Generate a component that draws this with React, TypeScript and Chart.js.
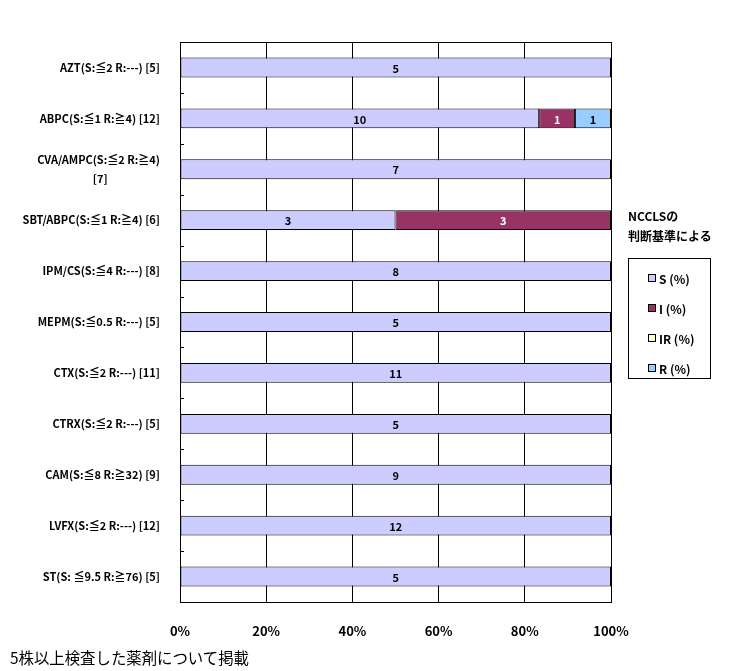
import React, { useEffect, useRef } from "react";
import { Chart, registerables } from "chart.js";

Chart.register(...registerables);

const categories: (string | string[])[] = [
  "AZT(S:≦2 R:---) [5]",
  "ABPC(S:≦1 R:≧4) [12]",
  ["CVA/AMPC(S:≦2 R:≧4)", "[7]                     "],
  "SBT/ABPC(S:≦1 R:≧4) [6]",
  "IPM/CS(S:≦4 R:---) [8]",
  "MEPM(S:≦0.5 R:---) [5]",
  "CTX(S:≦2 R:---) [11]",
  "CTRX(S:≦2 R:---) [5]",
  "CAM(S:≦8 R:≧32) [9]",
  "LVFX(S:≦2 R:---) [12]",
  "ST(S: ≦9.5 R:≧76) [5]",
];

const sCounts = [5, 10, 7, 3, 8, 5, 11, 5, 9, 12, 5];
const iCounts = [0, 1, 0, 3, 0, 0, 0, 0, 0, 0, 0];
const irCounts = [0, 0, 0, 0, 0, 0, 0, 0, 0, 0, 0];
const rCounts = [0, 1, 0, 0, 0, 0, 0, 0, 0, 0, 0];

const seriesNames = ["S (%)", "I (%)", "IR (%)", "R (%)"];
const seriesColors = ["#CCCCFF", "#993366", "#FFFFCC", "#99CCFF"];
const labelColors = ["#000000", "#FFFFFF", "#000000", "#000000"];
const xTicks = [0, 20, 40, 60, 80, 100];

const FONT = "'Noto Sans CJK JP', 'Noto Sans', sans-serif";

export default function App() {
  const ref = useRef<HTMLCanvasElement | null>(null);

  useEffect(() => {
    document.body.style.margin = "0";
    const counts = [sCounts, iCounts, irCounts, rCounts];
    const totals = sCounts.map(
      (_, i) => sCounts[i] + iCounts[i] + irCounts[i] + rCounts[i]
    );
    const datasets = counts.map((c, k) => ({
      label: seriesNames[k],
      data: c.map((v, i) => (v / totals[i]) * 100),
      backgroundColor: seriesColors[k],
      borderColor: "#000000",
      borderWidth: 1,
      borderSkipped: false as const,
      barPercentage: 0.39,
      categoryPercentage: 1,
    }));

    const overlay = {
      id: "overlay",
      afterDatasetsDraw(chart: any) {
        const ctx = chart.ctx;
        const area = chart.chartArea;
        ctx.save();
        ctx.font = `bold 11px ${FONT}`;
        ctx.textAlign = "center";
        ctx.textBaseline = "middle";
        chart.data.datasets.forEach((ds: any, k: number) => {
          const meta = chart.getDatasetMeta(k);
          meta.data.forEach((el: any, i: number) => {
            const v = counts[k][i];
            if (!v) return;
            const p = el.getCenterPoint();
            ctx.fillStyle = labelColors[k];
            ctx.fillText(String(v), p.x, p.y + 1);
          });
        });
        ctx.strokeStyle = "#000000";
        ctx.lineWidth = 1;
        ctx.beginPath();
        ctx.moveTo(area.left, Math.round(area.top) + 0.5);
        ctx.lineTo(area.right, Math.round(area.top) + 0.5);
        ctx.stroke();
        const y = chart.scales.y;
        for (let i = 0; i < categories.length - 1; i++) {
          const yy =
            (y.getPixelForValue(i) + y.getPixelForValue(i + 1)) / 2;
          ctx.beginPath();
          ctx.moveTo(area.left, Math.round(yy) + 0.5);
          ctx.lineTo(area.left + 4, Math.round(yy) + 0.5);
          ctx.stroke();
        }
        ctx.restore();
      },
    };

    const chart = new Chart(ref.current as HTMLCanvasElement, {
      type: "bar",
      data: { labels: categories, datasets },
      plugins: [overlay],
      options: {
        indexAxis: "y",
        animation: false,
        responsive: false,
        maintainAspectRatio: false,
        layout: { padding: { left: 0, right: 126, top: 42, bottom: 0 } },
        plugins: {
          legend: { display: false },
          tooltip: { enabled: false },
        },
        scales: {
          x: {
            stacked: true,
            min: 0,
            max: 100,
            afterBuildTicks: (scale: any) => {
              scale.ticks = xTicks.map((v) => ({ value: v }));
            },
            afterFit: (scale: any) => {
              scale.height = 69;
            },
            grid: {
              color: "#000000",
              lineWidth: 1,
              drawTicks: false,
            },
            border: { display: true, color: "#000000", width: 1 },
            ticks: {
              padding: 21,
              color: "#000000",
              font: { family: FONT, size: 13, weight: "bold" },
              callback: (v: any) => `${v}%`,
            },
          },
          y: {
            stacked: true,
            afterFit: (scale: any) => {
              scale.width = 180;
            },
            grid: { display: false },
            border: { display: true, color: "#000000", width: 1 },
            ticks: {
              padding: 12,
              color: "#000000",
              font: { family: FONT, size: 11, weight: "bold", lineHeight: 1.7 },
            },
          },
        },
      } as any,
    });
    return () => chart.destroy();
  }, []);

  const legendText: React.CSSProperties = {
    position: "absolute",
    fontFamily: FONT,
    fontWeight: "bold",
    color: "#000",
    whiteSpace: "nowrap",
  };

  return (
    <div style={{ position: "relative", width: 737, height: 671, background: "#fff" }}>
      <canvas ref={ref} width={737} height={671} style={{ display: "block" }} />
      <div style={{ ...legendText, left: 628, top: 206, fontSize: 12, lineHeight: "20px" }}>
        NCCLSの
        <br />
        判断基準による
      </div>
      <div
        style={{
          position: "absolute",
          left: 628,
          top: 258,
          width: 83,
          height: 121,
          border: "1px solid #000",
          boxSizing: "border-box",
        }}
      >
        {seriesNames.map((n, k) => (
          <div
            key={n}
            style={{
              position: "absolute",
              left: 19,
              top: 10 + k * 30,
              height: 18,
              display: "flex",
              alignItems: "center",
              fontFamily: FONT,
              fontWeight: "bold",
              fontSize: 12,
              whiteSpace: "nowrap",
            }}
          >
            <span
              style={{
                display: "inline-block",
                width: 6,
                height: 6,
                border: "1px solid #000",
                background: seriesColors[k],
                marginRight: 3,
              }}
            />
            {n}
          </div>
        ))}
      </div>
      <div
        style={{
          position: "absolute",
          left: 10,
          top: 647,
          fontFamily: FONT,
          fontSize: 15.4,
          lineHeight: "20px",
          whiteSpace: "nowrap",
          color: "#000",
        }}
      >
        5株以上検査した薬剤について掲載
      </div>
    </div>
  );
}
